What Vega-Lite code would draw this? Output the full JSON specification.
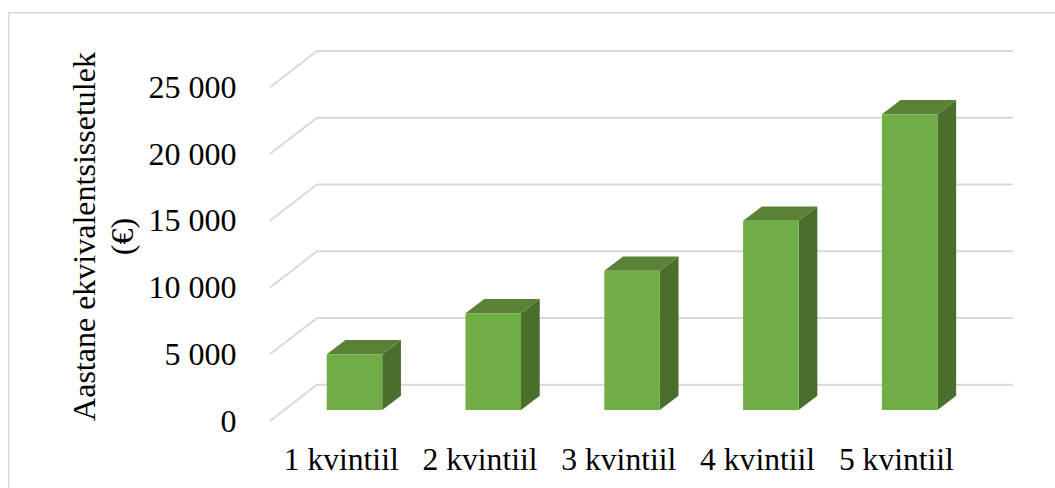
{
"$schema":"https://vega.github.io/schema/vega-lite/v6.json",
"width":1047,"height":476,"autosize":{"type":"none"},"padding":{"left":8,"top":12,"right":0,"bottom":0},
"background":"white",
"config":{"view":{"stroke":null},"axis":{"labelFont":"Liberation Serif","titleFont":"Liberation Serif"}},
"datasets":{
"bars":[{"q":"1 kvintiil","k":1,"v":4170},{"q":"2 kvintiil","k":2,"v":7245},{"q":"3 kvintiil","k":3,"v":10436},{"q":"4 kvintiil","k":4,"v":14182},{"q":"5 kvintiil","k":5,"v":22156}],
"ticks":[{"tick":0},{"tick":5000},{"tick":10000},{"tick":15000},{"tick":20000},{"tick":25000}]
},
"layer":[
{"data":{"name":"ticks"},
"transform":[{"calculate":"[0.4834,0.822,5.836]","as":"gx"},{"calculate":"[0,2720,2720]","as":"gd"},{"flatten":["gx","gd"]},{"calculate":"datum.tick+datum.gd","as":"gy"}],
"mark":{"type":"line","stroke":"#d9d9d9","strokeWidth":2,"clip":false},
"encoding":{
"x":{"field":"gx","type":"quantitative","scale":{"domain":[1,5],"range":[333.7,888.9],"nice":false,"zero":false},
"axis":{"values":[1,2,3,4,5],"labelExpr":"datum.value+' kvintiil'","domain":false,"ticks":false,"grid":false,"title":null,"labelFontSize":31.6,"labelColor":"#000000","labelPadding":-44,"labelOffset":-1,"labelOverlap":false,"labelFlush":false,"labelBound":false}},
"y":{"field":"gy","type":"quantitative","scale":{"domain":[0,25000],"range":[409,75.3],"nice":false,"zero":false},
"axis":{"values":[0,5000,10000,15000,20000,25000],"labelExpr":"replace(format(datum.value,','),',',' ')","domain":false,"ticks":false,"grid":false,"labelFontSize":32,"labelColor":"#000000","labelPadding":-228,"labelOverlap":false,"labelBound":false,"labelFlush":false,
"title":["Aastane ekvivalentsissetulek","(€)"],"titleFontSize":32,"titleFontWeight":"normal","titleColor":"#000000","titleAngle":270,"titleX":76,"titleY":224,"titleAlign":"center","titleBaseline":"middle","titleLineHeight":38}},
"detail":{"field":"tick"}}},
{"data":{"name":"bars"},
"transform":[{"calculate":"[datum.k+0.292,datum.k+0.4268]","as":"sx"},{"calculate":"[datum.v+824,datum.v+1895]","as":"st"},{"calculate":"[824,1895]","as":"sb"},{"flatten":["sx","st","sb"]}],
"mark":{"type":"area","orient":"vertical","color":"#4a6f2c","opacity":1},
"encoding":{"x":{"field":"sx","type":"quantitative","scale":{"domain":[1,5],"range":[333.7,888.9],"nice":false,"zero":false}},"y":{"field":"st","type":"quantitative","scale":{"domain":[0,25000],"range":[409,75.3],"nice":false,"zero":false}},"y2":{"field":"sb"},"detail":{"field":"q"}}},
{"data":{"name":"bars"},
"transform":[{"calculate":"[datum.k-0.108,datum.k+0.027,datum.k+0.292,datum.k+0.4268]","as":"tx"},{"calculate":"[datum.v+824,datum.v+1895,datum.v+1895,datum.v+1895]","as":"tt"},{"calculate":"[datum.v+824,datum.v+824,datum.v+824,datum.v+1895]","as":"tb"},{"flatten":["tx","tt","tb"]}],
"mark":{"type":"area","orient":"vertical","color":"#598237","opacity":1},
"encoding":{"x":{"field":"tx","type":"quantitative","scale":{"domain":[1,5],"range":[333.7,888.9],"nice":false,"zero":false}},"y":{"field":"tt","type":"quantitative","scale":{"domain":[0,25000],"range":[409,75.3],"nice":false,"zero":false}},"y2":{"field":"tb"},"detail":{"field":"q"}}},
{"data":{"name":"bars"},
"transform":[{"calculate":"datum.k-0.108","as":"fx"},{"calculate":"datum.k+0.292","as":"fx2"},{"calculate":"datum.v+824","as":"ft"},{"calculate":"824","as":"fb"}],
"mark":{"type":"rect","color":"#70ad47"},
"encoding":{"x":{"field":"fx","type":"quantitative","scale":{"domain":[1,5],"range":[333.7,888.9],"nice":false,"zero":false}},"x2":{"field":"fx2"},"y":{"field":"ft","type":"quantitative","scale":{"domain":[0,25000],"range":[409,75.3],"nice":false,"zero":false}},"y2":{"field":"fb"}}},
{"mark":{"type":"rule","stroke":"#d9d9d9","strokeWidth":1.5},"data":{"values":[{}]},"encoding":{"x":{"datum":-1.399,"type":"quantitative","scale":{"domain":[1,5],"range":[333.7,888.9],"nice":false,"zero":false}}}},
{"mark":{"type":"rule","stroke":"#d9d9d9","strokeWidth":1.5},"data":{"values":[{}]},"encoding":{"y":{"datum":30589,"type":"quantitative","scale":{"domain":[0,25000],"range":[409,75.3],"nice":false,"zero":false}}}}
]
}
